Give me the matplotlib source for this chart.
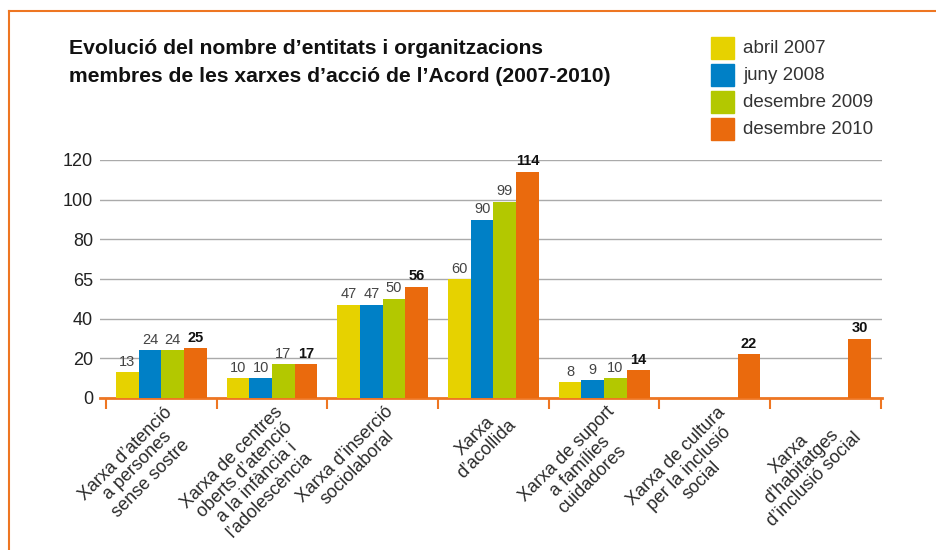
import numpy as np
import matplotlib.pyplot as plt
from matplotlib.lines import Line2D
from matplotlib.patches import Rectangle
from matplotlib.transforms import ScaledTranslation

# data
categories = [
    "Xarxa d’atenció\na persones\nsense sostre",
    "Xarxa de centres\noberts d’atenció\na la infància i\nl’adolescència",
    "Xarxa d’inserció\nsociolaboral",
    "Xarxa\nd’acollida",
    "Xarxa de suport\na famílies\ncuidadores",
    "Xarxa de cultura\nper la inclusió\nsocial",
    "Xarxa\nd’habitatges\nd’inclusió social",
]
series_names = ["abril 2007", "juny 2008", "desembre 2009", "desembre 2010"]
abril_2007 = [13, 10, 47, 60, 8, 0, 0]
juny_2008 = [24, 10, 47, 90, 9, 0, 0]
desembre_2009 = [24, 17, 50, 99, 10, 0, 0]
desembre_2010 = [25, 17, 56, 114, 14, 22, 30]
y_ticks = [0, 20, 40, 60, 80, 100, 120]
y_tick_labels = ["0", "20", "40", "65", "80", "100", "120"]  # "65" as printed in the source

colors = ["#E6D200", "#0080C6", "#B3C800", "#EA6A0D"]
orange = "#EE7622"

plt.rcParams['font.family'] = ['Liberation Sans', 'DejaVu Sans']

W, H = 936, 550
fig = plt.figure(figsize=(W / 100, H / 100), dpi=100)
ax = fig.add_axes([100 / W, 1 - 398 / H, 782 / W, 238 / H])

x = np.arange(len(categories))
w = 0.205
series = [abril_2007, juny_2008, desembre_2009, desembre_2010]
for i, (name, vals, c) in enumerate(zip(series_names, series, colors)):
    last = i == len(series) - 1
    bars = ax.bar(x + (i - 1.5) * w, vals, w, color=c, label=name, zorder=3)
    for b, v in zip(bars, vals):
        if v > 0:
            ax.annotate(str(v), (b.get_x() + b.get_width() / 2, v),
                        xytext=(0, 2.5), textcoords='offset points',
                        ha='center', va='bottom', fontsize=10.5,
                        color='#111111' if last else '#444444',
                        fontweight='bold' if last else 'normal')

ax.set_xlim(-0.554, 6.51)
ax.set_ylim(0, 120)

# y axis
ax.set_yticks(y_ticks, y_tick_labels)
ax.yaxis.grid(True, color='#aaaaaa', lw=1)
ax.set_axisbelow(True)
ax.tick_params(axis='y', length=0, pad=5, labelsize=13, labelcolor='#222222')

# x axis
ax.set_xticks(x, categories, rotation=45, ha='right', va='top',
              rotation_mode='anchor', multialignment='center', fontsize=13,
              linespacing=1.05)
ax.set_xticks(np.arange(-0.5, len(categories), 1), minor=True)
ax.tick_params(axis='x', which='major', length=0, pad=4, labelcolor='#2a2a2a')
ax.tick_params(axis='x', which='minor', length=8, width=1.5, color=orange)
shift = ScaledTranslation(2 / 100, 0, fig.dpi_scale_trans)
for lab in ax.get_xticklabels():
    lab.set_transform(lab.get_transform() + shift)

for s in ['top', 'right', 'left']:
    ax.spines[s].set_visible(False)
ax.spines['bottom'].set_color(orange)
ax.spines['bottom'].set_linewidth(2)

# title
fig.text(69 / W, 1 - 39 / H,
         "Evolució del nombre d’entitats i organitzacions\n"
         "membres de les xarxes d’acció de l’Acord (2007-2010)",
         ha='left', va='top', fontsize=15.2, fontweight='bold',
         color='#111111', linespacing=1.6)

# legend, placed by hand
for i, (name, c) in enumerate(zip(series_names, colors)):
    top = 37 + 27 * i
    fig.add_artist(Rectangle((711 / W, 1 - (top + 22) / H), 23 / W, 22 / H,
                             transform=fig.transFigure, color=c))
    fig.text(743 / W, 1 - (top + 11.5) / H, name, ha='left', va='center',
             fontsize=13.5, color='#333333')

# orange frame
fig.add_artist(Line2D([8.5 / W, 8.5 / W], [0, 1 - 10.5 / H],
                      transform=fig.transFigure, color=orange, lw=1.5))
fig.add_artist(Line2D([8.5 / W, 1], [1 - 10.5 / H, 1 - 10.5 / H],
                      transform=fig.transFigure, color=orange, lw=1.5))

plt.savefig("out.png", dpi=100)
